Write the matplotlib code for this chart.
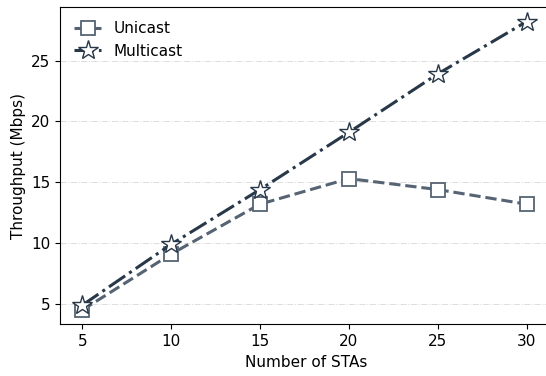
import matplotlib
matplotlib.use("Agg")
import matplotlib.pyplot as plt

stas = [5, 10, 15, 20, 25, 30]
unicast = [4.5, 9.1, 13.2, 15.3, 14.4, 13.2]
multicast = [4.9, 9.9, 14.4, 19.1, 23.9, 28.2]

fig, ax = plt.subplots(figsize=(5.46, 3.76), dpi=100)
# right edge of the axes sits just past the canvas, as in the original crop
fig.subplots_adjust(left=0.110, right=1.01, top=0.981, bottom=0.137)

ax.plot(stas, unicast, ls="--", lw=2.2, color="#556373", marker="s", ms=10,
        mfc="white", mec="#556373", mew=1.3, label="Unicast", zorder=3)
ax.plot(stas, multicast, ls="-.", lw=2.2, color="#283848", marker="*", ms=15,
        mfc="white", mec="#283848", mew=1.0, label="Multicast", zorder=4)

ax.set_xlim(3.75, 31.4)
ax.set_yticks([5, 10, 15, 20, 25])
ax.set_xticks(stas)
ax.spines["right"].set_visible(False)
ax.grid(True, axis="y", ls="-.", color="#dddddd", lw=0.7, zorder=0)
ax.set_xlabel("Number of STAs", fontsize=11)
ax.set_ylabel("Throughput (Mbps)", fontsize=11)
ax.tick_params(labelsize=11)
ax.legend(loc="upper left", frameon=False, fontsize=11, handlelength=1.8)

fig.savefig("out.png", dpi=100)
